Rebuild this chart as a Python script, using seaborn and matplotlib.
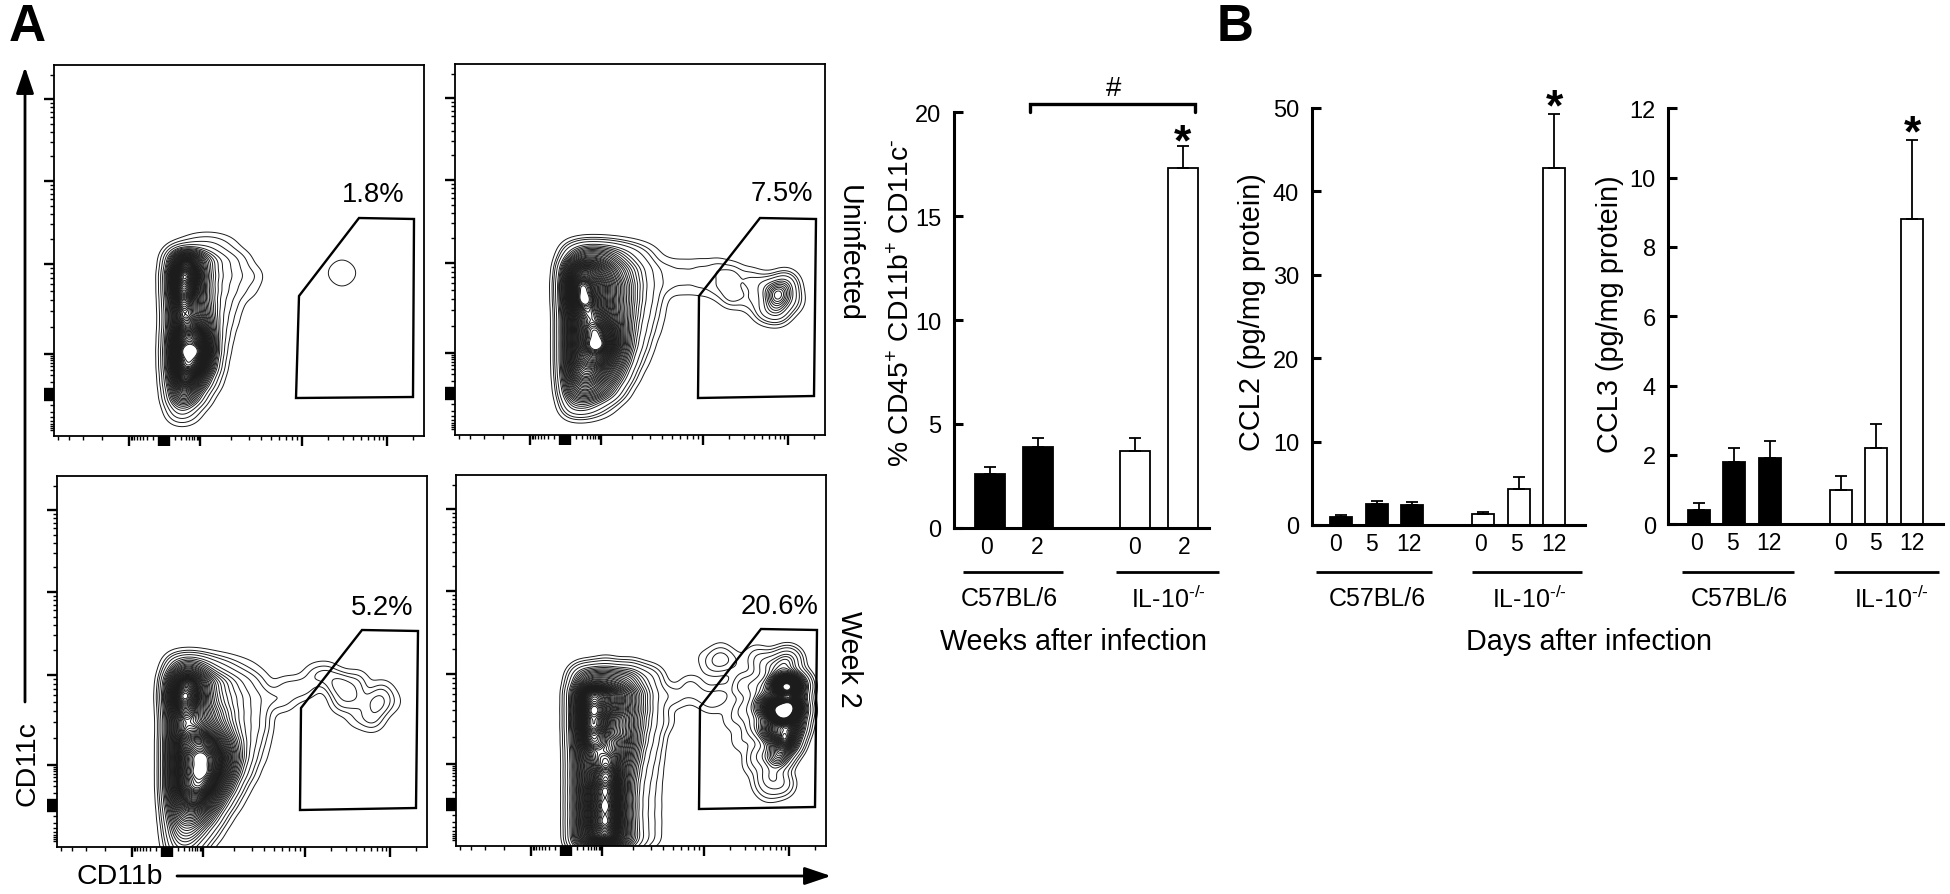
import numpy as np
import pandas as pd
import matplotlib
matplotlib.use('Agg')
import matplotlib.pyplot as plt
import seaborn as sns

W, H = 1950, 895

# ---- bar values ----
WEEK_POS = [0, 1, 3, 4]
WEEK_LABELS = ['0', '2', '0', '2']
WEEK_STRAIN = ['C57BL/6', 'C57BL/6', 'IL-10', 'IL-10']
CD45_VALS = [2.6, 3.9, 3.7, 17.3]
CD45_ERR = [0.3, 0.4, 0.6, 1.1]

DAY_POS = [0, 1, 2, 4, 5, 6]
DAY_LABELS = ['0', '5', '12', '0', '5', '12']
DAY_STRAIN = ['C57BL/6'] * 3 + ['IL-10'] * 3
CCL2_VALS = [1.0, 2.5, 2.4, 1.3, 4.3, 42.8]
CCL2_ERR = [0.16, 0.4, 0.4, 0.2, 1.4, 6.5]
CCL3_VALS = [0.4, 1.8, 1.9, 1.0, 2.2, 8.8]
CCL3_ERR = [0.2, 0.4, 0.5, 0.4, 0.7, 2.3]

# ---- flow panels: relative cell density ----
# each panel: a coarse table for the main population, plus loose knots (x, y, weight) for the rest
P1_COLS = [124, 133, 142, 151, 160, 170, 180, 190]
P1_ROWS = [190, 175, 160, 145, 130, 115, 100, 85, 70, 55, 40, 25]
P1_DENS = [[0, .15, .4, .5, .5, .3, .1, 0],
           [6, 8, 5, 2.5, 1.5, 1, .6, .25],
           [11, 12, 6, 2.5, 1.5, 1, .7, .35],
           [10, 9, 5, 2.5, 1.5, .9, .5, .2],
           [8, 6, 5, 3, 1.4, .7, .25, 0],
           [7, 6, 6, 4, 1.4, .5, .1, 0],
           [9, 9, 9, 6, 1.3, .3, 0, 0],
           [11, 11, 12, 8, 1, .1, 0, 0],
           [10, 10, 10, 5, .7, 0, 0, 0],
           [7, 7, 5, 1.5, .2, 0, 0, 0],
           [4, 4, 1.5, .2, 0, 0, 0, 0],
           [1, .8, .1, 0, 0, 0, 0, 0]]
P1_KNOTS = [(200, 160, .3), (200, 145, .1), (280, 163, .18), (296, 163, .18), (288, 170, .18), (288, 156, .18)]

P2_COLS = [118, 130, 142, 154, 166, 178, 190, 202]
P2_ROWS = [180, 165, 150, 135, 120, 105, 90, 75, 60, 45, 30]
P2_DENS = [[1.5, 3, 3, 2.5, 1.6, .9, .4, .1],
           [7, 8, 7, 5, 3, 1.8, .9, .3],
           [10, 10, 8, 6, 4, 2, 1, .35],
           [9, 11, 8, 6, 4, 2, .9, .3],
           [7, 9, 9, 6, 4, 1.8, .7, .2],
           [7, 9, 10, 8, 4, 1.5, .5, .1],
           [7, 9, 11, 9, 4, 1.2, .3, 0],
           [7, 8, 9, 6, 3, .6, .1, 0],
           [6, 7, 6, 4, 1.5, .2, 0, 0],
           [4, 5, 4, 2, .4, 0, 0, 0],
           [1.5, 1.5, .7, .2, 0, 0, 0, 0]]
P2_KNOTS = [(214, 150, .3), (214, 166, .3), (229, 150, .3), (229, 166, .3), (245, 150, .35), (245, 166, .35),
            (262, 165, .5), (262, 148, .5), (277, 160, .7), (277, 140, .9), (295, 155, .6), (295, 135, .5),
            (310, 125, 1), (322, 140, 5), (322, 125, 2), (330, 150, 2), (335, 135, 1), (310, 148, 1)]

P3_COLS = [120, 132, 144, 156, 168, 180, 192, 204]
P3_ROWS = [180, 165, 150, 135, 120, 105, 90, 75, 60, 45, 30, 15, 0]
P3_DENS = [[2, 3, 2, 1, .6, .3, .15, .05],
           [8, 10, 6, 3, 2, 1.2, .7, .3],
           [11, 11, 6, 3, 2, 1.5, 1, .6],
           [8, 8, 6, 4, 2.5, 1.5, 1, .6],
           [7, 7, 7, 5, 3, 1.5, 1, .6],
           [8, 9, 10, 8, 5, 2, 1, .3],
           [8, 10, 12, 10, 7, 2.5, .7, .15],
           [8, 10, 12, 10, 6, 1.5, .4, 0],
           [8, 10, 11, 8, 3, .6, .05, 0],
           [6, 8, 8, 4, 1, .15, 0, 0],
           [4, 5, 4, 1.5, .2, 0, 0, 0],
           [2.5, 3, 1.5, .4, 0, 0, 0, 0],
           [1.5, 1.5, .5, 0, 0, 0, 0, 0]]
P3_KNOTS = [(216, 148, .45), (228, 146, .4), (228, 160, .4), (240, 158, .45),
            (258, 172, .5), (270, 172, .7), (282, 162, 1.4), (292, 155, .7), (300, 165, .6), (320, 143, 1.4),
            (325, 155, .6), (315, 128, .8), (300, 130, .4), (335, 145, .3), (285, 145, .7), (300, 148, .7),
            (250, 160, .4)]

P4_COLS = [126, 138, 150, 162, 174, 186, 198]
P4_ROWS = [168, 152, 136, 120, 104, 88, 72, 56, 40, 24, 8]
P4_DENS = [[3, 4, 4, 3.5, 3, 1.3, .5],
           [8, 10, 8, 7, 5, 2.5, .9],
           [8, 12, 8, 7, 5, 2.5, .9],
           [8, 11, 7, 6, 5, 2, .8],
           [7, 9, 7, 7, 5, 1.5, .6],
           [6, 7, 8, 7, 4, 1, .4],
           [6, 7, 10, 7, 3, .7, .3],
           [6, 8, 12, 7, 2.5, .5, .25],
           [6, 8, 12, 7, 2.5, .4, .25],
           [6, 8, 12, 7, 2.5, .4, .25],
           [6, 8, 10, 7, 3, .5, .25]]
P4_KNOTS = [(212, 150, .5), (224, 148, .3), (210, 125, .3), (150, 180, .3), (175, 178, .2), (195, 168, .3),
            (234, 160, .5), (245, 150, .4), (255, 142, .35), (265, 150, .5), (275, 125, .3),
            (288, 135, .9), (288, 160, 1.1), (310, 180, 1.5), (300, 190, .5), (285, 105, .4), (295, 80, .3),
            (305, 62, .3),
            (264, 187, .9), (255, 180, .3), (275, 185, .3), (245, 190, .15), (285, 180, .15), (265, 200, .1),
            (325, 133, 16), (335, 140, 14), (325, 160, 13), (335, 160, 12), (315, 140, 9), (317, 115, 9),
            (330, 105, 11), (322, 90, 6), (315, 70, 2), (313, 55, .5), (326, 62, 1.2), (336, 120, 9),
            (305, 160, 2), (332, 185, 3), (322, 180, 2), (302, 120, 2), (305, 90, 1.5), (305, 140, 3),
            (342, 135, 3), (342, 160, 3)]

# gate outlines
GATE1_X = [245, 305, 360, 359, 242]
GATE1_Y = [140, 218, 217, 39, 38]
GATE_X = [244, 305, 361, 359, 243]
GATE_Y = [139, 217, 216, 39, 37]

# ---- styling ----
sns.set_theme(style='ticks')
plt.rcParams['font.family'] = ['Liberation Sans', 'DejaVu Sans']
plt.rcParams['mathtext.fontset'] = 'custom'
plt.rcParams['mathtext.rm'] = 'Liberation Sans'
plt.rcParams['mathtext.default'] = 'regular'
plt.rcParams['text.color'] = 'black'

fig = plt.figure(figsize=(W / 100, H / 100), dpi=100, facecolor='white')


def px_axes(left, top, right, bottom):
    return fig.add_axes([left / W, 1 - bottom / H, (right - left) / W, (bottom - top) / H])


def log_ticks(start, stop):
    return [start + (stop - start) * np.log10(k) for k in range(2, 10)]


X_MAJOR = [75, 146, 248, 333] + list(range(105, 116))
Y_MAJOR = [82, 172, 255, 337] + list(range(36, 48))
X_MINOR = [4, 15, 29, 48, 359] + log_ticks(110, 75) + log_ticks(110, 146) + log_ticks(146, 248) + log_ticks(248, 333)
Y_MINOR = [361] + log_ticks(42, 4) + log_ticks(42, 82) + log_ticks(82, 172) + log_ticks(172, 255) + log_ticks(255, 337)

LEVELS = [0.004, 0.012, 0.025, 0.045] + list(np.arange(0.07, 0.97, 0.018))


def round_kernel(xs, ys, ws, sigma):
    # gaussian_kde shapes its kernel by the data covariance: two tiny far-off anchors
    # even that out, so the kernel stays round in channel units
    pts = np.array([xs, ys], dtype=float)
    ws = np.array(ws, dtype=float)
    mean = np.average(pts, axis=1, weights=ws)
    vals, vecs = np.linalg.eigh(np.cov(pts, aweights=ws, ddof=0))
    off = 1500 * vecs[:, 0]
    mass = ws.sum() * (vals[1] - vals[0]) / (2 * 1500 ** 2)
    x = np.r_[pts[0], mean[0] + off[0], mean[0] - off[0]]
    y = np.r_[pts[1], mean[1] + off[1], mean[1] - off[1]]
    return x, y, np.r_[ws, mass, mass], sigma / np.sqrt(vals[1])


def flow_panel(box, cols, rows, dens, knots, gate_x, gate_y, sigma=8):
    ax = px_axes(*box)
    gx, gy = np.meshgrid(cols, rows)
    kx, ky, kw = zip(*knots)
    xs = np.r_[gx.ravel(), kx]
    ys = np.r_[gy.ravel(), ky]
    ws = np.r_[np.ravel(dens), kw]
    keep = ws > 0
    x, y, w, bw = round_kernel(xs[keep], ys[keep], ws[keep], sigma)
    sns.kdeplot(x=x, y=y, weights=w, levels=LEVELS, bw_method=bw, gridsize=300, clip=((0, 370), (0, 371)),
                color='#1c1c1c', linewidths=0.7, ax=ax)
    ax.fill(gate_x, gate_y, facecolor='none', edgecolor='black', linewidth=1.7, zorder=5)
    ax.set_xlim(0, 370)
    ax.set_ylim(0, 371)
    ax.set_xticks(X_MAJOR, labels=[])
    ax.set_yticks(Y_MAJOR, labels=[])
    ax.set_xticks(X_MINOR, minor=True)
    ax.set_yticks(Y_MINOR, minor=True)
    ax.tick_params(which='major', length=7, width=1.7, color='black')
    ax.tick_params(which='minor', length=3.2, width=1.0, color='black')
    ax.set_xlabel('')
    ax.set_ylabel('')
    for s in ax.spines.values():
        s.set_linewidth(1.3)
        s.set_color('black')
        s.set_visible(True)


flow_panel((54, 66, 424, 437), P1_COLS, P1_ROWS, P1_DENS, P1_KNOTS, GATE1_X, GATE1_Y, sigma=7.5)
flow_panel((455, 65, 825, 436), P2_COLS, P2_ROWS, P2_DENS, P2_KNOTS, GATE_X, GATE_Y)
flow_panel((57, 477, 427, 848), P3_COLS, P3_ROWS, P3_DENS, P3_KNOTS, GATE_X, GATE_Y)
flow_panel((456, 476, 826, 847), P4_COLS, P4_ROWS, P4_DENS, P4_KNOTS, GATE_X, GATE_Y)


def bar_panel(box, pos, strain, vals, errs, labels, label_pos, ymax, yticks, xlim):
    ax = px_axes(*box)
    df = pd.DataFrame({'pos': pos, 'val': vals, 'strain': strain})
    sns.barplot(data=df, x='pos', y='val', hue='strain', native_scale=True, dodge=False, width=0.62,
                palette={'C57BL/6': 'black', 'IL-10': 'white'}, saturation=1, edgecolor='black',
                linewidth=1.3, errorbar=None, legend=False, ax=ax)
    ax.errorbar(pos, vals, yerr=[np.zeros(len(errs)), errs], fmt='none', ecolor='black',
                elinewidth=1.3, capsize=4.3, capthick=1.3, zorder=1)
    ax.set_xlim(*xlim)
    ax.set_ylim(0, ymax)
    ax.set_yticks(yticks)
    ax.set_xticks(label_pos, labels=labels)
    ax.tick_params(axis='y', direction='in', length=6.5, width=2.2, pad=9, labelsize=17, color='black', labelcolor='black')
    ax.tick_params(axis='x', length=0, pad=5, labelsize=16.5, labelcolor='black')
    ax.set_xlabel('')
    ax.set_ylabel('')
    sns.despine(ax=ax)
    for s in ('left', 'bottom'):
        ax.spines[s].set_linewidth(2.2)
        ax.spines[s].set_color('black')
    ax.patch.set_alpha(0)
    return ax


bar_panel((954, 113.3, 1209, 528.7), WEEK_POS, WEEK_STRAIN, CD45_VALS, CD45_ERR, WEEK_LABELS,
          [-0.07, 0.98, 2.99, 4.03], 20, [0, 5, 10, 15, 20], (-0.735, 4.54))
bar_panel((1311.7, 108.7, 1585, 526), DAY_POS, DAY_STRAIN, CCL2_VALS, CCL2_ERR, DAY_LABELS,
          [-0.15, 0.86, 1.91, 3.91, 4.93, 5.98], 50, [0, 10, 20, 30, 40, 50], (-0.834, 6.865))
bar_panel((1668.3, 109.3, 1943, 525.3), DAY_POS, DAY_STRAIN, CCL3_VALS, CCL3_ERR, DAY_LABELS,
          [-0.06, 0.94, 1.99, 3.99, 4.98, 6.0], 12, [0, 2, 4, 6, 8, 10, 12], (-0.856, 6.88))

# ---- everything placed in figure pixels ----
over = fig.add_axes([0, 0, 1, 1])
over.set_xlim(0, W)
over.set_ylim(H, 0)
over.axis('off')
over.patch.set_alpha(0)


def label(x, y, s, size=18, rotation=0, **kw):
    over.text(x, y, s, fontsize=size, rotation=rotation, ha='center', va='center', color='black', **kw)


def arrow(x0, y0, x1, y1):
    over.annotate('', xy=(x1, y1), xytext=(x0, y0),
                  arrowprops=dict(arrowstyle='-|>,head_length=16,head_width=5.4', mutation_scale=1,
                                  shrinkA=0, shrinkB=0, lw=2, color='black', fc='black'))


label(27, 27, 'A', size=37, fontweight='bold')
label(1235, 27, 'B', size=37, fontweight='bold')

arrow(25, 703, 25, 68)
arrow(177, 877, 831, 877)
label(27, 764, 'CD11c', size=20.5, rotation=90)
label(120, 877, 'CD11b', size=20.5)

label(373, 195, '1.8%', size=19.7)
label(782, 194, '7.5%', size=19.7)
label(382, 608, '5.2%', size=19.7)
label(780, 607, '20.6%', size=19.7)
label(849, 253, 'Uninfected', size=20.6, rotation=270)
label(849, 659, 'Week 2', size=20.6, rotation=270)

label(902, 303, r'% CD45$^{+}$ CD11b$^{+}$ CD11c$^{\text{-}}$', size=20.3, rotation=90)
label(1252, 312, 'CCL2 (pg/mg protein)', size=20.8, rotation=90)
label(1610, 314, 'CCL3 (pg/mg protein)', size=20.8, rotation=90)

IL10 = r'IL-10$^{\text{-/-}}$'
for x0, x1 in [(963, 1063), (1116, 1219), (1316, 1432), (1472, 1582), (1682, 1794), (1834, 1939)]:
    over.plot([x0, x1], [572.5, 572.5], color='black', lw=2, solid_capstyle='butt')
for x, s in [(1009, 'C57BL/6'), (1168, IL10), (1377, 'C57BL/6'), (1529, IL10), (1739, 'C57BL/6'), (1891, IL10)]:
    label(x, 599, s, size=18)
label(1074, 642, 'Weeks after infection', size=20.6)
label(1589.5, 642, 'Days after infection', size=20.7)

# significance marks
over.plot([1030, 1030, 1195, 1195], [113, 105, 105, 113], color='black', lw=2.4, solid_joinstyle='miter')
label(1114, 89, '#', size=20)
for x, y in [(1182, 155), (1554, 120), (1912, 146)]:
    over.text(x, y, '*', fontsize=32, fontweight='bold', ha='center', va='baseline', color='black')

fig.savefig('out.png', dpi=100)
